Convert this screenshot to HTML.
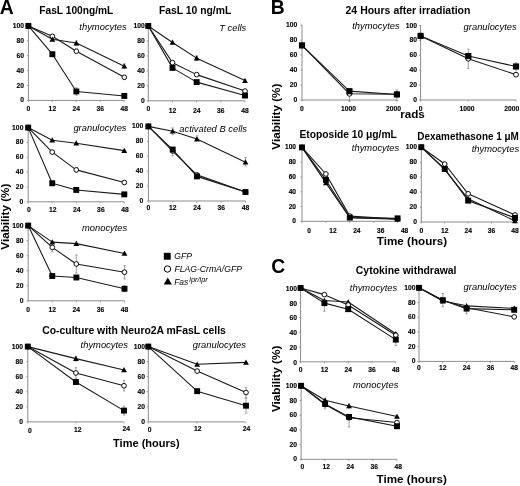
<!DOCTYPE html>
<html><head><meta charset="utf-8"><style>
html,body{margin:0;padding:0;background:#fff;}
svg{display:block;font-family:"Liberation Sans", sans-serif;filter:blur(0.3px);}
.tk{stroke:#000;stroke-width:1.2px;}
</style></head><body>
<svg width="520" height="486" viewBox="0 0 520 486" fill="#000">
<rect width="520" height="486" fill="#fff"/>
<path d="M28.40 25.40 V100.40 H124.30" stroke="#8c8c8c" stroke-width="1" fill="none"/>
<path d="M26.80 100.40 H28.40" stroke="#8c8c8c" stroke-width="0.8"/>
<text class="tk" transform="translate(24.00,102.40) scale(0.10500,0.10000)" font-size="64.50" font-weight="bold" font-style="normal" text-anchor="end">0</text>
<path d="M26.80 85.50 H28.40" stroke="#8c8c8c" stroke-width="0.8"/>
<text class="tk" transform="translate(24.00,87.50) scale(0.10500,0.10000)" font-size="64.50" font-weight="bold" font-style="normal" text-anchor="end">20</text>
<path d="M26.80 70.60 H28.40" stroke="#8c8c8c" stroke-width="0.8"/>
<text class="tk" transform="translate(24.00,72.60) scale(0.10500,0.10000)" font-size="64.50" font-weight="bold" font-style="normal" text-anchor="end">40</text>
<path d="M26.80 55.70 H28.40" stroke="#8c8c8c" stroke-width="0.8"/>
<text class="tk" transform="translate(24.00,57.70) scale(0.10500,0.10000)" font-size="64.50" font-weight="bold" font-style="normal" text-anchor="end">60</text>
<path d="M26.80 40.80 H28.40" stroke="#8c8c8c" stroke-width="0.8"/>
<text class="tk" transform="translate(24.00,42.80) scale(0.10500,0.10000)" font-size="64.50" font-weight="bold" font-style="normal" text-anchor="end">80</text>
<path d="M26.80 25.90 H28.40" stroke="#8c8c8c" stroke-width="0.8"/>
<text class="tk" transform="translate(24.00,27.90) scale(0.10500,0.10000)" font-size="64.50" font-weight="bold" font-style="normal" text-anchor="end">100</text>
<path d="M28.40 100.40 V102.00" stroke="#8c8c8c" stroke-width="0.8"/>
<text class="tk" transform="translate(28.40,110.60) scale(0.10500,0.10000)" font-size="64.50" font-weight="bold" font-style="normal" text-anchor="middle">0</text>
<path d="M52.38 100.40 V102.00" stroke="#8c8c8c" stroke-width="0.8"/>
<text class="tk" transform="translate(52.38,110.60) scale(0.10500,0.10000)" font-size="64.50" font-weight="bold" font-style="normal" text-anchor="middle">12</text>
<path d="M76.35 100.40 V102.00" stroke="#8c8c8c" stroke-width="0.8"/>
<text class="tk" transform="translate(76.35,110.60) scale(0.10500,0.10000)" font-size="64.50" font-weight="bold" font-style="normal" text-anchor="middle">24</text>
<path d="M100.32 100.40 V102.00" stroke="#8c8c8c" stroke-width="0.8"/>
<text class="tk" transform="translate(100.32,110.60) scale(0.10500,0.10000)" font-size="64.50" font-weight="bold" font-style="normal" text-anchor="middle">36</text>
<path d="M124.30 100.40 V102.00" stroke="#8c8c8c" stroke-width="0.8"/>
<text class="tk" transform="translate(124.30,110.60) scale(0.10500,0.10000)" font-size="64.50" font-weight="bold" font-style="normal" text-anchor="middle">48</text>
<text x="79.37" y="29.50" font-size="9.38" font-weight="normal" font-style="italic" text-anchor="start">thymocytes</text>
<path d="M76.35 49.00 V51.23 M75.15 49.00 H77.55 M75.15 51.23 H77.55" stroke="#8c8c8c" stroke-width="0.8"/>
<path d="M76.35 40.80 V45.27 M75.15 40.80 H77.55 M75.15 45.27 H77.55" stroke="#8c8c8c" stroke-width="0.8"/>
<path d="M124.30 63.90 V68.37 M123.10 63.90 H125.50 M123.10 68.37 H125.50" stroke="#8c8c8c" stroke-width="0.8"/>
<path d="M76.35 87.74 V95.19 M75.15 87.74 H77.55 M75.15 95.19 H77.55" stroke="#8c8c8c" stroke-width="0.8"/>
<path d="M28.40 25.90 L52.38 36.33 L76.35 51.23 L124.30 77.31" stroke="#1a1a1a" stroke-width="1.1" fill="none" stroke-linejoin="round"/>
<path d="M28.40 25.90 L52.38 39.31 L76.35 43.04 L124.30 66.13" stroke="#1a1a1a" stroke-width="1.1" fill="none" stroke-linejoin="round"/>
<path d="M28.40 25.90 L52.38 54.21 L76.35 91.46 L124.30 95.93" stroke="#1a1a1a" stroke-width="1.1" fill="none" stroke-linejoin="round"/>
<circle cx="28.40" cy="25.90" r="2.35" fill="#fff" stroke="#000" stroke-width="0.95"/>
<circle cx="52.38" cy="36.33" r="2.35" fill="#fff" stroke="#000" stroke-width="0.95"/>
<circle cx="76.35" cy="51.23" r="2.35" fill="#fff" stroke="#000" stroke-width="0.95"/>
<circle cx="124.30" cy="77.31" r="2.35" fill="#fff" stroke="#000" stroke-width="0.95"/>
<path d="M28.40 23.04 L31.30 28.24 L25.50 28.24 Z" fill="#000"/>
<path d="M52.38 36.45 L55.27 41.65 L49.48 41.65 Z" fill="#000"/>
<path d="M76.35 40.18 L79.25 45.38 L73.45 45.38 Z" fill="#000"/>
<path d="M124.30 63.27 L127.20 68.47 L121.40 68.47 Z" fill="#000"/>
<rect x="25.45" y="22.95" width="5.90" height="5.90" fill="#000"/>
<rect x="49.42" y="51.26" width="5.90" height="5.90" fill="#000"/>
<rect x="73.40" y="88.51" width="5.90" height="5.90" fill="#000"/>
<rect x="121.35" y="92.98" width="5.90" height="5.90" fill="#000"/>
<path d="M148.30 25.50 V100.80 H245.00" stroke="#8c8c8c" stroke-width="1" fill="none"/>
<path d="M146.70 100.80 H148.30" stroke="#8c8c8c" stroke-width="0.8"/>
<text class="tk" transform="translate(144.70,102.80) scale(0.10500,0.10000)" font-size="64.50" font-weight="bold" font-style="normal" text-anchor="end">0</text>
<path d="M146.70 85.84 H148.30" stroke="#8c8c8c" stroke-width="0.8"/>
<text class="tk" transform="translate(144.70,87.84) scale(0.10500,0.10000)" font-size="64.50" font-weight="bold" font-style="normal" text-anchor="end">20</text>
<path d="M146.70 70.88 H148.30" stroke="#8c8c8c" stroke-width="0.8"/>
<text class="tk" transform="translate(144.70,72.88) scale(0.10500,0.10000)" font-size="64.50" font-weight="bold" font-style="normal" text-anchor="end">40</text>
<path d="M146.70 55.92 H148.30" stroke="#8c8c8c" stroke-width="0.8"/>
<text class="tk" transform="translate(144.70,57.92) scale(0.10500,0.10000)" font-size="64.50" font-weight="bold" font-style="normal" text-anchor="end">60</text>
<path d="M146.70 40.96 H148.30" stroke="#8c8c8c" stroke-width="0.8"/>
<text class="tk" transform="translate(144.70,42.96) scale(0.10500,0.10000)" font-size="64.50" font-weight="bold" font-style="normal" text-anchor="end">80</text>
<path d="M146.70 26.00 H148.30" stroke="#8c8c8c" stroke-width="0.8"/>
<text class="tk" transform="translate(144.70,28.00) scale(0.10500,0.10000)" font-size="64.50" font-weight="bold" font-style="normal" text-anchor="end">100</text>
<path d="M148.30 100.80 V102.40" stroke="#8c8c8c" stroke-width="0.8"/>
<text class="tk" transform="translate(148.30,110.60) scale(0.10500,0.10000)" font-size="64.50" font-weight="bold" font-style="normal" text-anchor="middle">0</text>
<path d="M172.48 100.80 V102.40" stroke="#8c8c8c" stroke-width="0.8"/>
<text class="tk" transform="translate(172.48,113.30) scale(0.10500,0.10000)" font-size="64.50" font-weight="bold" font-style="normal" text-anchor="middle">12</text>
<path d="M196.65 100.80 V102.40" stroke="#8c8c8c" stroke-width="0.8"/>
<text class="tk" transform="translate(196.65,113.30) scale(0.10500,0.10000)" font-size="64.50" font-weight="bold" font-style="normal" text-anchor="middle">24</text>
<path d="M220.82 100.80 V102.40" stroke="#8c8c8c" stroke-width="0.8"/>
<text class="tk" transform="translate(220.82,113.30) scale(0.10500,0.10000)" font-size="64.50" font-weight="bold" font-style="normal" text-anchor="middle">36</text>
<path d="M245.00 100.80 V102.40" stroke="#8c8c8c" stroke-width="0.8"/>
<text class="tk" transform="translate(245.00,113.30) scale(0.10500,0.10000)" font-size="64.50" font-weight="bold" font-style="normal" text-anchor="middle">48</text>
<text x="219.16" y="30.60" font-size="9.38" font-weight="normal" font-style="italic" text-anchor="start">T cells</text>
<path d="M196.65 55.92 V60.41 M195.45 55.92 H197.85 M195.45 60.41 H197.85" stroke="#8c8c8c" stroke-width="0.8"/>
<path d="M148.30 26.00 L172.48 42.46 L196.65 58.16 L245.00 80.60" stroke="#1a1a1a" stroke-width="1.1" fill="none" stroke-linejoin="round"/>
<path d="M148.30 26.00 L172.48 62.65 L196.65 74.62 L245.00 91.08" stroke="#1a1a1a" stroke-width="1.1" fill="none" stroke-linejoin="round"/>
<path d="M148.30 26.00 L172.48 67.89 L196.65 82.10 L245.00 95.56" stroke="#1a1a1a" stroke-width="1.1" fill="none" stroke-linejoin="round"/>
<path d="M148.30 23.14 L151.20 28.34 L145.40 28.34 Z" fill="#000"/>
<path d="M172.48 39.60 L175.38 44.80 L169.58 44.80 Z" fill="#000"/>
<path d="M196.65 55.30 L199.55 60.50 L193.75 60.50 Z" fill="#000"/>
<path d="M245.00 77.74 L247.90 82.94 L242.10 82.94 Z" fill="#000"/>
<circle cx="148.30" cy="26.00" r="2.35" fill="#fff" stroke="#000" stroke-width="0.95"/>
<circle cx="172.48" cy="62.65" r="2.35" fill="#fff" stroke="#000" stroke-width="0.95"/>
<circle cx="196.65" cy="74.62" r="2.35" fill="#fff" stroke="#000" stroke-width="0.95"/>
<circle cx="245.00" cy="91.08" r="2.35" fill="#fff" stroke="#000" stroke-width="0.95"/>
<rect x="145.35" y="23.05" width="5.90" height="5.90" fill="#000"/>
<rect x="169.53" y="64.94" width="5.90" height="5.90" fill="#000"/>
<rect x="193.70" y="79.15" width="5.90" height="5.90" fill="#000"/>
<rect x="242.05" y="92.61" width="5.90" height="5.90" fill="#000"/>
<path d="M28.20 127.10 V201.80 H124.30" stroke="#8c8c8c" stroke-width="1" fill="none"/>
<path d="M26.60 201.80 H28.20" stroke="#8c8c8c" stroke-width="0.8"/>
<text class="tk" transform="translate(23.40,203.80) scale(0.10500,0.10000)" font-size="64.50" font-weight="bold" font-style="normal" text-anchor="end">0</text>
<path d="M26.60 186.96 H28.20" stroke="#8c8c8c" stroke-width="0.8"/>
<text class="tk" transform="translate(23.40,188.96) scale(0.10500,0.10000)" font-size="64.50" font-weight="bold" font-style="normal" text-anchor="end">20</text>
<path d="M26.60 172.12 H28.20" stroke="#8c8c8c" stroke-width="0.8"/>
<text class="tk" transform="translate(23.40,174.12) scale(0.10500,0.10000)" font-size="64.50" font-weight="bold" font-style="normal" text-anchor="end">40</text>
<path d="M26.60 157.28 H28.20" stroke="#8c8c8c" stroke-width="0.8"/>
<text class="tk" transform="translate(23.40,159.28) scale(0.10500,0.10000)" font-size="64.50" font-weight="bold" font-style="normal" text-anchor="end">60</text>
<path d="M26.60 142.44 H28.20" stroke="#8c8c8c" stroke-width="0.8"/>
<text class="tk" transform="translate(23.40,144.44) scale(0.10500,0.10000)" font-size="64.50" font-weight="bold" font-style="normal" text-anchor="end">80</text>
<path d="M26.60 127.60 H28.20" stroke="#8c8c8c" stroke-width="0.8"/>
<text class="tk" transform="translate(23.40,129.60) scale(0.10500,0.10000)" font-size="64.50" font-weight="bold" font-style="normal" text-anchor="end">100</text>
<path d="M28.20 201.80 V203.40" stroke="#8c8c8c" stroke-width="0.8"/>
<text class="tk" transform="translate(28.80,211.70) scale(0.10500,0.10000)" font-size="64.50" font-weight="bold" font-style="normal" text-anchor="middle">0</text>
<path d="M52.22 201.80 V203.40" stroke="#8c8c8c" stroke-width="0.8"/>
<text class="tk" transform="translate(52.82,211.70) scale(0.10500,0.10000)" font-size="64.50" font-weight="bold" font-style="normal" text-anchor="middle">12</text>
<path d="M76.25 201.80 V203.40" stroke="#8c8c8c" stroke-width="0.8"/>
<text class="tk" transform="translate(76.85,211.70) scale(0.10500,0.10000)" font-size="64.50" font-weight="bold" font-style="normal" text-anchor="middle">24</text>
<path d="M100.28 201.80 V203.40" stroke="#8c8c8c" stroke-width="0.8"/>
<text class="tk" transform="translate(100.88,211.70) scale(0.10500,0.10000)" font-size="64.50" font-weight="bold" font-style="normal" text-anchor="middle">36</text>
<path d="M124.30 201.80 V203.40" stroke="#8c8c8c" stroke-width="0.8"/>
<text class="tk" transform="translate(124.90,211.70) scale(0.10500,0.10000)" font-size="64.50" font-weight="bold" font-style="normal" text-anchor="middle">48</text>
<text x="73.38" y="130.50" font-size="9.38" font-weight="normal" font-style="italic" text-anchor="start">granulocytes</text>
<path d="M76.25 167.67 V172.12 M75.05 167.67 H77.45 M75.05 172.12 H77.45" stroke="#8c8c8c" stroke-width="0.8"/>
<path d="M28.20 127.60 L52.22 140.21 L76.25 143.18 L124.30 150.60" stroke="#1a1a1a" stroke-width="1.1" fill="none" stroke-linejoin="round"/>
<path d="M28.20 127.60 L52.22 152.09 L76.25 169.89 L124.30 182.51" stroke="#1a1a1a" stroke-width="1.1" fill="none" stroke-linejoin="round"/>
<path d="M28.20 127.60 L52.22 183.25 L76.25 189.93 L124.30 194.38" stroke="#1a1a1a" stroke-width="1.1" fill="none" stroke-linejoin="round"/>
<path d="M28.20 124.74 L31.10 129.94 L25.30 129.94 Z" fill="#000"/>
<path d="M52.22 137.35 L55.12 142.55 L49.32 142.55 Z" fill="#000"/>
<path d="M76.25 140.32 L79.15 145.52 L73.35 145.52 Z" fill="#000"/>
<path d="M124.30 147.74 L127.20 152.94 L121.40 152.94 Z" fill="#000"/>
<circle cx="28.20" cy="127.60" r="2.35" fill="#fff" stroke="#000" stroke-width="0.95"/>
<circle cx="52.22" cy="152.09" r="2.35" fill="#fff" stroke="#000" stroke-width="0.95"/>
<circle cx="76.25" cy="169.89" r="2.35" fill="#fff" stroke="#000" stroke-width="0.95"/>
<circle cx="124.30" cy="182.51" r="2.35" fill="#fff" stroke="#000" stroke-width="0.95"/>
<rect x="25.25" y="124.65" width="5.90" height="5.90" fill="#000"/>
<rect x="49.27" y="180.30" width="5.90" height="5.90" fill="#000"/>
<rect x="73.30" y="186.98" width="5.90" height="5.90" fill="#000"/>
<rect x="121.35" y="191.43" width="5.90" height="5.90" fill="#000"/>
<path d="M148.40 125.90 V201.00 H245.50" stroke="#8c8c8c" stroke-width="1" fill="none"/>
<path d="M146.80 201.00 H148.40" stroke="#8c8c8c" stroke-width="0.8"/>
<text class="tk" transform="translate(143.20,203.00) scale(0.10500,0.10000)" font-size="64.50" font-weight="bold" font-style="normal" text-anchor="end">0</text>
<path d="M146.80 186.08 H148.40" stroke="#8c8c8c" stroke-width="0.8"/>
<text class="tk" transform="translate(143.20,188.08) scale(0.10500,0.10000)" font-size="64.50" font-weight="bold" font-style="normal" text-anchor="end">20</text>
<path d="M146.80 171.16 H148.40" stroke="#8c8c8c" stroke-width="0.8"/>
<text class="tk" transform="translate(143.20,173.16) scale(0.10500,0.10000)" font-size="64.50" font-weight="bold" font-style="normal" text-anchor="end">40</text>
<path d="M146.80 156.24 H148.40" stroke="#8c8c8c" stroke-width="0.8"/>
<text class="tk" transform="translate(143.20,158.24) scale(0.10500,0.10000)" font-size="64.50" font-weight="bold" font-style="normal" text-anchor="end">60</text>
<path d="M146.80 141.32 H148.40" stroke="#8c8c8c" stroke-width="0.8"/>
<text class="tk" transform="translate(143.20,143.32) scale(0.10500,0.10000)" font-size="64.50" font-weight="bold" font-style="normal" text-anchor="end">80</text>
<path d="M146.80 126.40 H148.40" stroke="#8c8c8c" stroke-width="0.8"/>
<text class="tk" transform="translate(143.20,128.40) scale(0.10500,0.10000)" font-size="64.50" font-weight="bold" font-style="normal" text-anchor="end">100</text>
<path d="M148.40 201.00 V202.60" stroke="#8c8c8c" stroke-width="0.8"/>
<text class="tk" transform="translate(148.40,209.80) scale(0.10500,0.10000)" font-size="64.50" font-weight="bold" font-style="normal" text-anchor="middle">0</text>
<path d="M172.68 201.00 V202.60" stroke="#8c8c8c" stroke-width="0.8"/>
<text class="tk" transform="translate(172.68,209.80) scale(0.10500,0.10000)" font-size="64.50" font-weight="bold" font-style="normal" text-anchor="middle">12</text>
<path d="M196.95 201.00 V202.60" stroke="#8c8c8c" stroke-width="0.8"/>
<text class="tk" transform="translate(196.95,209.80) scale(0.10500,0.10000)" font-size="64.50" font-weight="bold" font-style="normal" text-anchor="middle">24</text>
<path d="M221.23 201.00 V202.60" stroke="#8c8c8c" stroke-width="0.8"/>
<text class="tk" transform="translate(221.23,209.80) scale(0.10500,0.10000)" font-size="64.50" font-weight="bold" font-style="normal" text-anchor="middle">36</text>
<path d="M245.50 201.00 V202.60" stroke="#8c8c8c" stroke-width="0.8"/>
<text class="tk" transform="translate(245.50,209.80) scale(0.10500,0.10000)" font-size="64.50" font-weight="bold" font-style="normal" text-anchor="middle">48</text>
<text x="179.29" y="131.50" font-size="9.38" font-weight="normal" font-style="italic" text-anchor="start">activated B cells</text>
<path d="M172.68 127.89 V134.61 M171.48 127.89 H173.88 M171.48 134.61 H173.88" stroke="#8c8c8c" stroke-width="0.8"/>
<path d="M196.95 135.73 V139.08 M195.75 135.73 H198.15 M195.75 139.08 H198.15" stroke="#8c8c8c" stroke-width="0.8"/>
<path d="M245.50 157.36 V165.94 M244.30 157.36 H246.70 M244.30 165.94 H246.70" stroke="#8c8c8c" stroke-width="0.8"/>
<path d="M172.68 151.02 V155.87 M171.48 151.02 H173.88 M171.48 155.87 H173.88" stroke="#8c8c8c" stroke-width="0.8"/>
<path d="M148.40 126.40 L172.68 131.25 L196.95 139.08 L245.50 162.21" stroke="#1a1a1a" stroke-width="1.1" fill="none" stroke-linejoin="round"/>
<path d="M148.40 126.40 L172.68 151.02 L196.95 174.89 L245.50 192.05" stroke="#1a1a1a" stroke-width="1.1" fill="none" stroke-linejoin="round"/>
<path d="M148.40 126.40 L172.68 149.53 L196.95 176.38 L245.50 192.05" stroke="#1a1a1a" stroke-width="1.1" fill="none" stroke-linejoin="round"/>
<path d="M148.40 123.54 L151.30 128.74 L145.50 128.74 Z" fill="#000"/>
<path d="M172.68 128.39 L175.58 133.59 L169.78 133.59 Z" fill="#000"/>
<path d="M196.95 136.22 L199.85 141.42 L194.05 141.42 Z" fill="#000"/>
<path d="M245.50 159.35 L248.40 164.55 L242.60 164.55 Z" fill="#000"/>
<circle cx="148.40" cy="126.40" r="2.35" fill="#fff" stroke="#000" stroke-width="0.95"/>
<circle cx="172.68" cy="151.02" r="2.35" fill="#fff" stroke="#000" stroke-width="0.95"/>
<circle cx="196.95" cy="174.89" r="2.35" fill="#fff" stroke="#000" stroke-width="0.95"/>
<circle cx="245.50" cy="192.05" r="2.35" fill="#fff" stroke="#000" stroke-width="0.95"/>
<rect x="145.45" y="123.45" width="5.90" height="5.90" fill="#000"/>
<rect x="169.73" y="146.58" width="5.90" height="5.90" fill="#000"/>
<rect x="194.00" y="173.43" width="5.90" height="5.90" fill="#000"/>
<rect x="242.55" y="189.10" width="5.90" height="5.90" fill="#000"/>
<path d="M28.20 225.10 V300.80 H124.50" stroke="#8c8c8c" stroke-width="1" fill="none"/>
<path d="M26.60 300.80 H28.20" stroke="#8c8c8c" stroke-width="0.8"/>
<text class="tk" transform="translate(23.50,302.80) scale(0.10500,0.10000)" font-size="64.50" font-weight="bold" font-style="normal" text-anchor="end">0</text>
<path d="M26.60 285.76 H28.20" stroke="#8c8c8c" stroke-width="0.8"/>
<text class="tk" transform="translate(23.50,287.76) scale(0.10500,0.10000)" font-size="64.50" font-weight="bold" font-style="normal" text-anchor="end">20</text>
<path d="M26.60 270.72 H28.20" stroke="#8c8c8c" stroke-width="0.8"/>
<text class="tk" transform="translate(23.50,272.72) scale(0.10500,0.10000)" font-size="64.50" font-weight="bold" font-style="normal" text-anchor="end">40</text>
<path d="M26.60 255.68 H28.20" stroke="#8c8c8c" stroke-width="0.8"/>
<text class="tk" transform="translate(23.50,257.68) scale(0.10500,0.10000)" font-size="64.50" font-weight="bold" font-style="normal" text-anchor="end">60</text>
<path d="M26.60 240.64 H28.20" stroke="#8c8c8c" stroke-width="0.8"/>
<text class="tk" transform="translate(23.50,242.64) scale(0.10500,0.10000)" font-size="64.50" font-weight="bold" font-style="normal" text-anchor="end">80</text>
<path d="M26.60 225.60 H28.20" stroke="#8c8c8c" stroke-width="0.8"/>
<text class="tk" transform="translate(23.50,227.60) scale(0.10500,0.10000)" font-size="64.50" font-weight="bold" font-style="normal" text-anchor="end">100</text>
<path d="M28.20 300.80 V302.40" stroke="#8c8c8c" stroke-width="0.8"/>
<text class="tk" transform="translate(28.20,311.70) scale(0.10500,0.10000)" font-size="64.50" font-weight="bold" font-style="normal" text-anchor="middle">0</text>
<path d="M52.27 300.80 V302.40" stroke="#8c8c8c" stroke-width="0.8"/>
<text class="tk" transform="translate(52.27,311.70) scale(0.10500,0.10000)" font-size="64.50" font-weight="bold" font-style="normal" text-anchor="middle">12</text>
<path d="M76.35 300.80 V302.40" stroke="#8c8c8c" stroke-width="0.8"/>
<text class="tk" transform="translate(76.35,311.70) scale(0.10500,0.10000)" font-size="64.50" font-weight="bold" font-style="normal" text-anchor="middle">24</text>
<path d="M100.42 300.80 V302.40" stroke="#8c8c8c" stroke-width="0.8"/>
<text class="tk" transform="translate(100.42,311.70) scale(0.10500,0.10000)" font-size="64.50" font-weight="bold" font-style="normal" text-anchor="middle">36</text>
<path d="M124.50 300.80 V302.40" stroke="#8c8c8c" stroke-width="0.8"/>
<text class="tk" transform="translate(124.50,311.70) scale(0.10500,0.10000)" font-size="64.50" font-weight="bold" font-style="normal" text-anchor="middle">48</text>
<text x="81.94" y="230.50" font-size="9.38" font-weight="normal" font-style="italic" text-anchor="start">monocytes</text>
<path d="M52.27 242.90 V251.92 M51.07 242.90 H53.48 M51.07 251.92 H53.48" stroke="#8c8c8c" stroke-width="0.8"/>
<path d="M76.35 254.93 V272.98 M75.15 254.93 H77.55 M75.15 272.98 H77.55" stroke="#8c8c8c" stroke-width="0.8"/>
<path d="M124.50 265.46 V278.99 M123.30 265.46 H125.70 M123.30 278.99 H125.70" stroke="#8c8c8c" stroke-width="0.8"/>
<path d="M124.50 285.76 V291.78 M123.30 285.76 H125.70 M123.30 291.78 H125.70" stroke="#8c8c8c" stroke-width="0.8"/>
<path d="M28.20 225.60 L52.27 242.14 L76.35 243.65 L124.50 253.42" stroke="#1a1a1a" stroke-width="1.1" fill="none" stroke-linejoin="round"/>
<path d="M28.20 225.60 L52.27 247.41 L76.35 263.95 L124.50 272.22" stroke="#1a1a1a" stroke-width="1.1" fill="none" stroke-linejoin="round"/>
<path d="M28.20 225.60 L52.27 275.98 L76.35 277.49 L124.50 288.77" stroke="#1a1a1a" stroke-width="1.1" fill="none" stroke-linejoin="round"/>
<path d="M28.20 222.74 L31.10 227.94 L25.30 227.94 Z" fill="#000"/>
<path d="M52.27 239.28 L55.17 244.48 L49.38 244.48 Z" fill="#000"/>
<path d="M76.35 240.79 L79.25 245.99 L73.45 245.99 Z" fill="#000"/>
<path d="M124.50 250.56 L127.40 255.76 L121.60 255.76 Z" fill="#000"/>
<circle cx="28.20" cy="225.60" r="2.35" fill="#fff" stroke="#000" stroke-width="0.95"/>
<circle cx="52.27" cy="247.41" r="2.35" fill="#fff" stroke="#000" stroke-width="0.95"/>
<circle cx="76.35" cy="263.95" r="2.35" fill="#fff" stroke="#000" stroke-width="0.95"/>
<circle cx="124.50" cy="272.22" r="2.35" fill="#fff" stroke="#000" stroke-width="0.95"/>
<rect x="25.25" y="222.65" width="5.90" height="5.90" fill="#000"/>
<rect x="49.32" y="273.03" width="5.90" height="5.90" fill="#000"/>
<rect x="73.40" y="274.54" width="5.90" height="5.90" fill="#000"/>
<rect x="121.55" y="285.82" width="5.90" height="5.90" fill="#000"/>
<path d="M27.80 346.10 V421.90 H123.60" stroke="#8c8c8c" stroke-width="1" fill="none"/>
<path d="M26.20 421.90 H27.80" stroke="#8c8c8c" stroke-width="0.8"/>
<text class="tk" transform="translate(23.10,423.90) scale(0.10500,0.10000)" font-size="64.50" font-weight="bold" font-style="normal" text-anchor="end">0</text>
<path d="M26.20 406.84 H27.80" stroke="#8c8c8c" stroke-width="0.8"/>
<text class="tk" transform="translate(23.10,408.84) scale(0.10500,0.10000)" font-size="64.50" font-weight="bold" font-style="normal" text-anchor="end">20</text>
<path d="M26.20 391.78 H27.80" stroke="#8c8c8c" stroke-width="0.8"/>
<text class="tk" transform="translate(23.10,393.78) scale(0.10500,0.10000)" font-size="64.50" font-weight="bold" font-style="normal" text-anchor="end">40</text>
<path d="M26.20 376.72 H27.80" stroke="#8c8c8c" stroke-width="0.8"/>
<text class="tk" transform="translate(23.10,378.72) scale(0.10500,0.10000)" font-size="64.50" font-weight="bold" font-style="normal" text-anchor="end">60</text>
<path d="M26.20 361.66 H27.80" stroke="#8c8c8c" stroke-width="0.8"/>
<text class="tk" transform="translate(23.10,363.66) scale(0.10500,0.10000)" font-size="64.50" font-weight="bold" font-style="normal" text-anchor="end">80</text>
<path d="M26.20 346.60 H27.80" stroke="#8c8c8c" stroke-width="0.8"/>
<text class="tk" transform="translate(23.10,348.60) scale(0.10500,0.10000)" font-size="64.50" font-weight="bold" font-style="normal" text-anchor="end">100</text>
<path d="M27.80 421.90 V423.50" stroke="#8c8c8c" stroke-width="0.8"/>
<text class="tk" transform="translate(30.00,433.00) scale(0.10500,0.10000)" font-size="64.50" font-weight="bold" font-style="normal" text-anchor="middle">0</text>
<path d="M75.90 421.90 V423.50" stroke="#8c8c8c" stroke-width="0.8"/>
<text class="tk" transform="translate(77.70,432.30) scale(0.10500,0.10000)" font-size="64.50" font-weight="bold" font-style="normal" text-anchor="middle">12</text>
<path d="M124.00 421.90 V423.50" stroke="#8c8c8c" stroke-width="0.8"/>
<text class="tk" transform="translate(126.20,430.70) scale(0.10500,0.10000)" font-size="64.50" font-weight="bold" font-style="normal" text-anchor="middle">24</text>
<text x="80.57" y="348.10" font-size="9.38" font-weight="normal" font-style="italic" text-anchor="start">thymocytes</text>
<path d="M75.90 356.39 V360.91 M74.70 356.39 H77.10 M74.70 360.91 H77.10" stroke="#8c8c8c" stroke-width="0.8"/>
<path d="M75.90 367.68 V378.23 M74.70 367.68 H77.10 M74.70 378.23 H77.10" stroke="#8c8c8c" stroke-width="0.8"/>
<path d="M124.00 380.49 V391.03 M122.80 380.49 H125.20 M122.80 391.03 H125.20" stroke="#8c8c8c" stroke-width="0.8"/>
<path d="M124.00 406.09 V415.12 M122.80 406.09 H125.20 M122.80 415.12 H125.20" stroke="#8c8c8c" stroke-width="0.8"/>
<path d="M27.80 346.60 L75.90 358.65 L124.00 369.94" stroke="#1a1a1a" stroke-width="1.1" fill="none" stroke-linejoin="round"/>
<path d="M27.80 346.60 L75.90 372.95 L124.00 385.76" stroke="#1a1a1a" stroke-width="1.1" fill="none" stroke-linejoin="round"/>
<path d="M27.80 346.60 L75.90 381.99 L124.00 410.60" stroke="#1a1a1a" stroke-width="1.1" fill="none" stroke-linejoin="round"/>
<path d="M27.80 343.74 L30.70 348.94 L24.90 348.94 Z" fill="#000"/>
<path d="M75.90 355.79 L78.80 360.99 L73.00 360.99 Z" fill="#000"/>
<path d="M124.00 367.08 L126.90 372.28 L121.10 372.28 Z" fill="#000"/>
<circle cx="27.80" cy="346.60" r="2.35" fill="#fff" stroke="#000" stroke-width="0.95"/>
<circle cx="75.90" cy="372.95" r="2.35" fill="#fff" stroke="#000" stroke-width="0.95"/>
<circle cx="124.00" cy="385.76" r="2.35" fill="#fff" stroke="#000" stroke-width="0.95"/>
<rect x="24.85" y="343.65" width="5.90" height="5.90" fill="#000"/>
<rect x="72.95" y="379.04" width="5.90" height="5.90" fill="#000"/>
<rect x="121.05" y="407.65" width="5.90" height="5.90" fill="#000"/>
<path d="M148.30 346.10 V421.90 H245.20" stroke="#8c8c8c" stroke-width="1" fill="none"/>
<path d="M146.70 421.90 H148.30" stroke="#8c8c8c" stroke-width="0.8"/>
<text class="tk" transform="translate(145.00,423.90) scale(0.10500,0.10000)" font-size="64.50" font-weight="bold" font-style="normal" text-anchor="end">0</text>
<path d="M146.70 406.84 H148.30" stroke="#8c8c8c" stroke-width="0.8"/>
<text class="tk" transform="translate(145.00,408.84) scale(0.10500,0.10000)" font-size="64.50" font-weight="bold" font-style="normal" text-anchor="end">20</text>
<path d="M146.70 391.78 H148.30" stroke="#8c8c8c" stroke-width="0.8"/>
<text class="tk" transform="translate(145.00,393.78) scale(0.10500,0.10000)" font-size="64.50" font-weight="bold" font-style="normal" text-anchor="end">40</text>
<path d="M146.70 376.72 H148.30" stroke="#8c8c8c" stroke-width="0.8"/>
<text class="tk" transform="translate(145.00,378.72) scale(0.10500,0.10000)" font-size="64.50" font-weight="bold" font-style="normal" text-anchor="end">60</text>
<path d="M146.70 361.66 H148.30" stroke="#8c8c8c" stroke-width="0.8"/>
<text class="tk" transform="translate(145.00,363.66) scale(0.10500,0.10000)" font-size="64.50" font-weight="bold" font-style="normal" text-anchor="end">80</text>
<path d="M146.70 346.60 H148.30" stroke="#8c8c8c" stroke-width="0.8"/>
<text class="tk" transform="translate(145.00,348.60) scale(0.10500,0.10000)" font-size="64.50" font-weight="bold" font-style="normal" text-anchor="end">100</text>
<path d="M148.30 421.90 V423.50" stroke="#8c8c8c" stroke-width="0.8"/>
<text class="tk" transform="translate(149.70,432.30) scale(0.10500,0.10000)" font-size="64.50" font-weight="bold" font-style="normal" text-anchor="middle">0</text>
<path d="M197.15 421.90 V423.50" stroke="#8c8c8c" stroke-width="0.8"/>
<text class="tk" transform="translate(197.75,430.70) scale(0.10500,0.10000)" font-size="64.50" font-weight="bold" font-style="normal" text-anchor="middle">12</text>
<path d="M246.00 421.90 V423.50" stroke="#8c8c8c" stroke-width="0.8"/>
<text class="tk" transform="translate(246.60,430.70) scale(0.10500,0.10000)" font-size="64.50" font-weight="bold" font-style="normal" text-anchor="middle">24</text>
<text x="192.78" y="348.30" font-size="9.38" font-weight="normal" font-style="italic" text-anchor="start">granulocytes</text>
<path d="M246.00 387.26 V397.80 M244.80 387.26 H247.20 M244.80 397.80 H247.20" stroke="#8c8c8c" stroke-width="0.8"/>
<path d="M246.00 398.18 V413.24 M244.80 398.18 H247.20 M244.80 413.24 H247.20" stroke="#8c8c8c" stroke-width="0.8"/>
<path d="M148.30 346.60 L197.15 364.30 L246.00 362.41" stroke="#1a1a1a" stroke-width="1.1" fill="none" stroke-linejoin="round"/>
<path d="M148.30 346.60 L197.15 371.07 L246.00 392.53" stroke="#1a1a1a" stroke-width="1.1" fill="none" stroke-linejoin="round"/>
<path d="M148.30 346.60 L197.15 391.18 L246.00 405.71" stroke="#1a1a1a" stroke-width="1.1" fill="none" stroke-linejoin="round"/>
<path d="M148.30 343.74 L151.20 348.94 L145.40 348.94 Z" fill="#000"/>
<path d="M197.15 361.44 L200.05 366.64 L194.25 366.64 Z" fill="#000"/>
<path d="M246.00 359.55 L248.90 364.75 L243.10 364.75 Z" fill="#000"/>
<circle cx="148.30" cy="346.60" r="2.35" fill="#fff" stroke="#000" stroke-width="0.95"/>
<circle cx="197.15" cy="371.07" r="2.35" fill="#fff" stroke="#000" stroke-width="0.95"/>
<circle cx="246.00" cy="392.53" r="2.35" fill="#fff" stroke="#000" stroke-width="0.95"/>
<rect x="145.35" y="343.65" width="5.90" height="5.90" fill="#000"/>
<rect x="194.20" y="388.23" width="5.90" height="5.90" fill="#000"/>
<rect x="243.05" y="402.76" width="5.90" height="5.90" fill="#000"/>
<path d="M302.00 24.70 V100.00 H396.90" stroke="#8c8c8c" stroke-width="1" fill="none"/>
<path d="M300.40 100.00 H302.00" stroke="#8c8c8c" stroke-width="0.8"/>
<text class="tk" transform="translate(297.30,102.00) scale(0.10500,0.10000)" font-size="64.50" font-weight="bold" font-style="normal" text-anchor="end">0</text>
<path d="M300.40 85.04 H302.00" stroke="#8c8c8c" stroke-width="0.8"/>
<text class="tk" transform="translate(297.30,87.04) scale(0.10500,0.10000)" font-size="64.50" font-weight="bold" font-style="normal" text-anchor="end">20</text>
<path d="M300.40 70.08 H302.00" stroke="#8c8c8c" stroke-width="0.8"/>
<text class="tk" transform="translate(297.30,72.08) scale(0.10500,0.10000)" font-size="64.50" font-weight="bold" font-style="normal" text-anchor="end">40</text>
<path d="M300.40 55.12 H302.00" stroke="#8c8c8c" stroke-width="0.8"/>
<text class="tk" transform="translate(297.30,57.12) scale(0.10500,0.10000)" font-size="64.50" font-weight="bold" font-style="normal" text-anchor="end">60</text>
<path d="M300.40 40.16 H302.00" stroke="#8c8c8c" stroke-width="0.8"/>
<text class="tk" transform="translate(297.30,42.16) scale(0.10500,0.10000)" font-size="64.50" font-weight="bold" font-style="normal" text-anchor="end">80</text>
<path d="M300.40 25.20 H302.00" stroke="#8c8c8c" stroke-width="0.8"/>
<text class="tk" transform="translate(297.30,27.20) scale(0.10500,0.10000)" font-size="64.50" font-weight="bold" font-style="normal" text-anchor="end">100</text>
<path d="M302.00 100.00 V101.60" stroke="#8c8c8c" stroke-width="0.8"/>
<text class="tk" transform="translate(302.00,110.70) scale(0.10500,0.10000)" font-size="64.50" font-weight="bold" font-style="normal" text-anchor="middle">0</text>
<path d="M349.45 100.00 V101.60" stroke="#8c8c8c" stroke-width="0.8"/>
<text class="tk" transform="translate(348.45,110.70) scale(0.10500,0.10000)" font-size="64.50" font-weight="bold" font-style="normal" text-anchor="middle">1000</text>
<path d="M396.90 100.00 V101.60" stroke="#8c8c8c" stroke-width="0.8"/>
<text class="tk" transform="translate(393.50,110.70) scale(0.10500,0.10000)" font-size="64.50" font-weight="bold" font-style="normal" text-anchor="middle">2000</text>
<text x="352.27" y="28.90" font-size="9.38" font-weight="normal" font-style="italic" text-anchor="start">thymocytes</text>
<path d="M349.45 93.79 V101.27 M348.25 93.79 H350.65 M348.25 101.27 H350.65" stroke="#8c8c8c" stroke-width="0.8"/>
<path d="M349.45 88.93 V91.17 M348.25 88.93 H350.65 M348.25 91.17 H350.65" stroke="#8c8c8c" stroke-width="0.8"/>
<path d="M396.90 89.98 V100.45 M395.70 89.98 H398.10 M395.70 100.45 H398.10" stroke="#8c8c8c" stroke-width="0.8"/>
<path d="M302.00 45.40 L349.45 93.79 L396.90 94.32" stroke="#1a1a1a" stroke-width="1.1" fill="none" stroke-linejoin="round"/>
<path d="M302.00 45.40 L349.45 91.17 L396.90 94.46" stroke="#1a1a1a" stroke-width="1.1" fill="none" stroke-linejoin="round"/>
<circle cx="302.00" cy="45.40" r="2.44" fill="#fff" stroke="#000" stroke-width="0.95"/>
<circle cx="349.45" cy="93.79" r="2.44" fill="#fff" stroke="#000" stroke-width="0.95"/>
<circle cx="396.90" cy="94.32" r="2.44" fill="#fff" stroke="#000" stroke-width="0.95"/>
<rect x="298.93" y="42.33" width="6.14" height="6.14" fill="#000"/>
<rect x="346.38" y="88.11" width="6.14" height="6.14" fill="#000"/>
<rect x="393.83" y="91.40" width="6.14" height="6.14" fill="#000"/>
<path d="M420.60 25.00 V100.00 H516.00" stroke="#8c8c8c" stroke-width="1" fill="none"/>
<path d="M419.00 100.00 H420.60" stroke="#8c8c8c" stroke-width="0.8"/>
<text class="tk" transform="translate(417.10,102.00) scale(0.10500,0.10000)" font-size="64.50" font-weight="bold" font-style="normal" text-anchor="end">0</text>
<path d="M419.00 85.10 H420.60" stroke="#8c8c8c" stroke-width="0.8"/>
<text class="tk" transform="translate(417.10,87.10) scale(0.10500,0.10000)" font-size="64.50" font-weight="bold" font-style="normal" text-anchor="end">20</text>
<path d="M419.00 70.20 H420.60" stroke="#8c8c8c" stroke-width="0.8"/>
<text class="tk" transform="translate(417.10,72.20) scale(0.10500,0.10000)" font-size="64.50" font-weight="bold" font-style="normal" text-anchor="end">40</text>
<path d="M419.00 55.30 H420.60" stroke="#8c8c8c" stroke-width="0.8"/>
<text class="tk" transform="translate(417.10,57.30) scale(0.10500,0.10000)" font-size="64.50" font-weight="bold" font-style="normal" text-anchor="end">60</text>
<path d="M419.00 40.40 H420.60" stroke="#8c8c8c" stroke-width="0.8"/>
<text class="tk" transform="translate(417.10,42.40) scale(0.10500,0.10000)" font-size="64.50" font-weight="bold" font-style="normal" text-anchor="end">80</text>
<path d="M419.00 25.50 H420.60" stroke="#8c8c8c" stroke-width="0.8"/>
<text class="tk" transform="translate(417.10,27.50) scale(0.10500,0.10000)" font-size="64.50" font-weight="bold" font-style="normal" text-anchor="end">100</text>
<path d="M420.60 100.00 V101.60" stroke="#8c8c8c" stroke-width="0.8"/>
<text class="tk" transform="translate(420.60,110.90) scale(0.10500,0.10000)" font-size="64.50" font-weight="bold" font-style="normal" text-anchor="middle">0</text>
<path d="M468.30 100.00 V101.60" stroke="#8c8c8c" stroke-width="0.8"/>
<text class="tk" transform="translate(467.00,110.90) scale(0.10500,0.10000)" font-size="64.50" font-weight="bold" font-style="normal" text-anchor="middle">1000</text>
<path d="M516.00 100.00 V101.60" stroke="#8c8c8c" stroke-width="0.8"/>
<text class="tk" transform="translate(511.80,110.90) scale(0.10500,0.10000)" font-size="64.50" font-weight="bold" font-style="normal" text-anchor="middle">2000</text>
<text x="463.58" y="30.30" font-size="9.38" font-weight="normal" font-style="italic" text-anchor="start">granulocytes</text>
<path d="M468.30 58.73 V68.41 M467.10 58.73 H469.50 M467.10 68.41 H469.50" stroke="#8c8c8c" stroke-width="0.8"/>
<path d="M420.60 32.95 V38.91 M419.40 32.95 H421.80 M419.40 38.91 H421.80" stroke="#8c8c8c" stroke-width="0.8"/>
<path d="M468.30 49.12 V56.05 M467.10 49.12 H469.50 M467.10 56.05 H469.50" stroke="#8c8c8c" stroke-width="0.8"/>
<path d="M516.00 62.75 V70.20 M514.80 62.75 H517.20 M514.80 70.20 H517.20" stroke="#8c8c8c" stroke-width="0.8"/>
<path d="M420.60 35.93 L468.30 58.73 L516.00 74.67" stroke="#1a1a1a" stroke-width="1.1" fill="none" stroke-linejoin="round"/>
<path d="M420.60 35.93 L468.30 56.05 L516.00 66.47" stroke="#1a1a1a" stroke-width="1.1" fill="none" stroke-linejoin="round"/>
<circle cx="420.60" cy="35.93" r="2.44" fill="#fff" stroke="#000" stroke-width="0.95"/>
<circle cx="468.30" cy="58.73" r="2.44" fill="#fff" stroke="#000" stroke-width="0.95"/>
<circle cx="516.00" cy="74.67" r="2.44" fill="#fff" stroke="#000" stroke-width="0.95"/>
<rect x="417.53" y="32.86" width="6.14" height="6.14" fill="#000"/>
<rect x="465.23" y="52.98" width="6.14" height="6.14" fill="#000"/>
<rect x="512.93" y="63.41" width="6.14" height="6.14" fill="#000"/>
<path d="M302.00 146.90 V221.30 H397.60" stroke="#8c8c8c" stroke-width="1" fill="none"/>
<path d="M300.40 221.30 H302.00" stroke="#8c8c8c" stroke-width="0.8"/>
<text class="tk" transform="translate(296.00,223.30) scale(0.10500,0.10000)" font-size="63.00" font-weight="bold" font-style="normal" text-anchor="end">0</text>
<path d="M300.40 206.52 H302.00" stroke="#8c8c8c" stroke-width="0.8"/>
<text class="tk" transform="translate(296.00,208.52) scale(0.10500,0.10000)" font-size="63.00" font-weight="bold" font-style="normal" text-anchor="end">20</text>
<path d="M300.40 191.74 H302.00" stroke="#8c8c8c" stroke-width="0.8"/>
<text class="tk" transform="translate(296.00,193.74) scale(0.10500,0.10000)" font-size="63.00" font-weight="bold" font-style="normal" text-anchor="end">40</text>
<path d="M300.40 176.96 H302.00" stroke="#8c8c8c" stroke-width="0.8"/>
<text class="tk" transform="translate(296.00,178.96) scale(0.10500,0.10000)" font-size="63.00" font-weight="bold" font-style="normal" text-anchor="end">60</text>
<path d="M300.40 162.18 H302.00" stroke="#8c8c8c" stroke-width="0.8"/>
<text class="tk" transform="translate(296.00,164.18) scale(0.10500,0.10000)" font-size="63.00" font-weight="bold" font-style="normal" text-anchor="end">80</text>
<path d="M300.40 147.40 H302.00" stroke="#8c8c8c" stroke-width="0.8"/>
<text class="tk" transform="translate(296.00,149.40) scale(0.10500,0.10000)" font-size="63.00" font-weight="bold" font-style="normal" text-anchor="end">100</text>
<path d="M302.00 221.30 V222.90" stroke="#8c8c8c" stroke-width="0.8"/>
<text class="tk" transform="translate(309.00,233.00) scale(0.10500,0.10000)" font-size="63.00" font-weight="bold" font-style="normal" text-anchor="middle">0</text>
<path d="M325.90 221.30 V222.90" stroke="#8c8c8c" stroke-width="0.8"/>
<text class="tk" transform="translate(332.90,233.00) scale(0.10500,0.10000)" font-size="63.00" font-weight="bold" font-style="normal" text-anchor="middle">12</text>
<path d="M349.80 221.30 V222.90" stroke="#8c8c8c" stroke-width="0.8"/>
<text class="tk" transform="translate(356.80,233.00) scale(0.10500,0.10000)" font-size="63.00" font-weight="bold" font-style="normal" text-anchor="middle">24</text>
<path d="M373.70 221.30 V222.90" stroke="#8c8c8c" stroke-width="0.8"/>
<text class="tk" transform="translate(380.70,233.00) scale(0.10500,0.10000)" font-size="63.00" font-weight="bold" font-style="normal" text-anchor="middle">36</text>
<path d="M397.60 221.30 V222.90" stroke="#8c8c8c" stroke-width="0.8"/>
<text class="tk" transform="translate(404.60,233.00) scale(0.10500,0.10000)" font-size="63.00" font-weight="bold" font-style="normal" text-anchor="middle">48</text>
<text x="351.87" y="150.70" font-size="9.38" font-weight="normal" font-style="italic" text-anchor="start">thymocytes</text>
<path d="M302.00 147.40 L325.90 182.87 L349.80 217.61 L397.60 219.08" stroke="#1a1a1a" stroke-width="1.1" fill="none" stroke-linejoin="round"/>
<path d="M302.00 147.40 L325.90 174.00 L349.80 216.13 L397.60 219.08" stroke="#1a1a1a" stroke-width="1.1" fill="none" stroke-linejoin="round"/>
<path d="M302.00 147.40 L325.90 179.92 L349.80 217.61 L397.60 218.34" stroke="#1a1a1a" stroke-width="1.1" fill="none" stroke-linejoin="round"/>
<path d="M302.00 144.54 L304.90 149.74 L299.10 149.74 Z" fill="#000"/>
<path d="M325.90 180.01 L328.80 185.21 L323.00 185.21 Z" fill="#000"/>
<path d="M349.80 214.75 L352.70 219.95 L346.90 219.95 Z" fill="#000"/>
<path d="M397.60 216.22 L400.50 221.42 L394.70 221.42 Z" fill="#000"/>
<circle cx="302.00" cy="147.40" r="2.35" fill="#fff" stroke="#000" stroke-width="0.95"/>
<circle cx="325.90" cy="174.00" r="2.35" fill="#fff" stroke="#000" stroke-width="0.95"/>
<circle cx="349.80" cy="216.13" r="2.35" fill="#fff" stroke="#000" stroke-width="0.95"/>
<circle cx="397.60" cy="219.08" r="2.35" fill="#fff" stroke="#000" stroke-width="0.95"/>
<rect x="299.05" y="144.45" width="5.90" height="5.90" fill="#000"/>
<rect x="322.95" y="176.97" width="5.90" height="5.90" fill="#000"/>
<rect x="346.85" y="214.66" width="5.90" height="5.90" fill="#000"/>
<rect x="394.65" y="215.39" width="5.90" height="5.90" fill="#000"/>
<path d="M421.30 146.70 V222.00 H515.00" stroke="#8c8c8c" stroke-width="1" fill="none"/>
<path d="M419.70 222.00 H421.30" stroke="#8c8c8c" stroke-width="0.8"/>
<text class="tk" transform="translate(417.10,224.00) scale(0.10500,0.10000)" font-size="64.50" font-weight="bold" font-style="normal" text-anchor="end">0</text>
<path d="M419.70 207.04 H421.30" stroke="#8c8c8c" stroke-width="0.8"/>
<text class="tk" transform="translate(417.10,209.04) scale(0.10500,0.10000)" font-size="64.50" font-weight="bold" font-style="normal" text-anchor="end">20</text>
<path d="M419.70 192.08 H421.30" stroke="#8c8c8c" stroke-width="0.8"/>
<text class="tk" transform="translate(417.10,194.08) scale(0.10500,0.10000)" font-size="64.50" font-weight="bold" font-style="normal" text-anchor="end">40</text>
<path d="M419.70 177.12 H421.30" stroke="#8c8c8c" stroke-width="0.8"/>
<text class="tk" transform="translate(417.10,179.12) scale(0.10500,0.10000)" font-size="64.50" font-weight="bold" font-style="normal" text-anchor="end">60</text>
<path d="M419.70 162.16 H421.30" stroke="#8c8c8c" stroke-width="0.8"/>
<text class="tk" transform="translate(417.10,164.16) scale(0.10500,0.10000)" font-size="64.50" font-weight="bold" font-style="normal" text-anchor="end">80</text>
<path d="M419.70 147.20 H421.30" stroke="#8c8c8c" stroke-width="0.8"/>
<text class="tk" transform="translate(417.10,149.20) scale(0.10500,0.10000)" font-size="64.50" font-weight="bold" font-style="normal" text-anchor="end">100</text>
<path d="M421.30 222.00 V223.60" stroke="#8c8c8c" stroke-width="0.8"/>
<text class="tk" transform="translate(421.30,232.70) scale(0.10500,0.10000)" font-size="64.50" font-weight="bold" font-style="normal" text-anchor="middle">0</text>
<path d="M444.73 222.00 V223.60" stroke="#8c8c8c" stroke-width="0.8"/>
<text class="tk" transform="translate(444.73,232.70) scale(0.10500,0.10000)" font-size="64.50" font-weight="bold" font-style="normal" text-anchor="middle">12</text>
<path d="M468.15 222.00 V223.60" stroke="#8c8c8c" stroke-width="0.8"/>
<text class="tk" transform="translate(468.15,232.70) scale(0.10500,0.10000)" font-size="64.50" font-weight="bold" font-style="normal" text-anchor="middle">24</text>
<path d="M491.57 222.00 V223.60" stroke="#8c8c8c" stroke-width="0.8"/>
<text class="tk" transform="translate(491.57,232.70) scale(0.10500,0.10000)" font-size="64.50" font-weight="bold" font-style="normal" text-anchor="middle">36</text>
<path d="M515.00 222.00 V223.60" stroke="#8c8c8c" stroke-width="0.8"/>
<text class="tk" transform="translate(515.00,232.70) scale(0.10500,0.10000)" font-size="64.50" font-weight="bold" font-style="normal" text-anchor="middle">48</text>
<text x="471.67" y="152.40" font-size="9.38" font-weight="normal" font-style="italic" text-anchor="start">thymocytes</text>
<path d="M421.30 147.20 L444.73 169.64 L468.15 198.81 L515.00 220.88" stroke="#1a1a1a" stroke-width="1.1" fill="none" stroke-linejoin="round"/>
<path d="M421.30 147.20 L444.73 164.03 L468.15 193.80 L515.00 214.97" stroke="#1a1a1a" stroke-width="1.1" fill="none" stroke-linejoin="round"/>
<path d="M421.30 147.20 L444.73 168.89 L468.15 200.61 L515.00 217.89" stroke="#1a1a1a" stroke-width="1.1" fill="none" stroke-linejoin="round"/>
<path d="M421.30 144.34 L424.20 149.54 L418.40 149.54 Z" fill="#000"/>
<path d="M444.73 166.78 L447.62 171.98 L441.83 171.98 Z" fill="#000"/>
<path d="M468.15 195.95 L471.05 201.15 L465.25 201.15 Z" fill="#000"/>
<path d="M515.00 218.02 L517.90 223.22 L512.10 223.22 Z" fill="#000"/>
<circle cx="421.30" cy="147.20" r="2.35" fill="#fff" stroke="#000" stroke-width="0.95"/>
<circle cx="444.73" cy="164.03" r="2.35" fill="#fff" stroke="#000" stroke-width="0.95"/>
<circle cx="468.15" cy="193.80" r="2.35" fill="#fff" stroke="#000" stroke-width="0.95"/>
<circle cx="515.00" cy="214.97" r="2.35" fill="#fff" stroke="#000" stroke-width="0.95"/>
<rect x="418.35" y="144.25" width="5.90" height="5.90" fill="#000"/>
<rect x="441.78" y="165.94" width="5.90" height="5.90" fill="#000"/>
<rect x="465.20" y="197.66" width="5.90" height="5.90" fill="#000"/>
<rect x="512.05" y="214.94" width="5.90" height="5.90" fill="#000"/>
<path d="M300.60 287.50 V361.80 H395.80" stroke="#8c8c8c" stroke-width="1" fill="none"/>
<path d="M299.00 361.80 H300.60" stroke="#8c8c8c" stroke-width="0.8"/>
<text class="tk" transform="translate(297.10,364.60) scale(0.10500,0.10000)" font-size="64.50" font-weight="bold" font-style="normal" text-anchor="end">0</text>
<path d="M299.00 347.04 H300.60" stroke="#8c8c8c" stroke-width="0.8"/>
<text class="tk" transform="translate(297.10,349.84) scale(0.10500,0.10000)" font-size="64.50" font-weight="bold" font-style="normal" text-anchor="end">20</text>
<path d="M299.00 332.28 H300.60" stroke="#8c8c8c" stroke-width="0.8"/>
<text class="tk" transform="translate(297.10,335.08) scale(0.10500,0.10000)" font-size="64.50" font-weight="bold" font-style="normal" text-anchor="end">40</text>
<path d="M299.00 317.52 H300.60" stroke="#8c8c8c" stroke-width="0.8"/>
<text class="tk" transform="translate(297.10,320.32) scale(0.10500,0.10000)" font-size="64.50" font-weight="bold" font-style="normal" text-anchor="end">60</text>
<path d="M299.00 302.76 H300.60" stroke="#8c8c8c" stroke-width="0.8"/>
<text class="tk" transform="translate(297.10,305.56) scale(0.10500,0.10000)" font-size="64.50" font-weight="bold" font-style="normal" text-anchor="end">80</text>
<path d="M299.00 288.00 H300.60" stroke="#8c8c8c" stroke-width="0.8"/>
<text class="tk" transform="translate(297.10,290.80) scale(0.10500,0.10000)" font-size="64.50" font-weight="bold" font-style="normal" text-anchor="end">100</text>
<path d="M300.60 361.80 V363.40" stroke="#8c8c8c" stroke-width="0.8"/>
<text class="tk" transform="translate(300.60,371.90) scale(0.10500,0.10000)" font-size="64.50" font-weight="bold" font-style="normal" text-anchor="middle">0</text>
<path d="M324.40 361.80 V363.40" stroke="#8c8c8c" stroke-width="0.8"/>
<text class="tk" transform="translate(324.40,371.90) scale(0.10500,0.10000)" font-size="64.50" font-weight="bold" font-style="normal" text-anchor="middle">12</text>
<path d="M348.20 361.80 V363.40" stroke="#8c8c8c" stroke-width="0.8"/>
<text class="tk" transform="translate(348.20,371.90) scale(0.10500,0.10000)" font-size="64.50" font-weight="bold" font-style="normal" text-anchor="middle">24</text>
<path d="M372.00 361.80 V363.40" stroke="#8c8c8c" stroke-width="0.8"/>
<text class="tk" transform="translate(372.00,371.90) scale(0.10500,0.10000)" font-size="64.50" font-weight="bold" font-style="normal" text-anchor="middle">36</text>
<path d="M395.80 361.80 V363.40" stroke="#8c8c8c" stroke-width="0.8"/>
<text class="tk" transform="translate(395.80,371.90) scale(0.10500,0.10000)" font-size="64.50" font-weight="bold" font-style="normal" text-anchor="middle">48</text>
<text x="349.87" y="290.90" font-size="9.38" font-weight="normal" font-style="italic" text-anchor="start">thymocytes</text>
<path d="M324.40 303.13 V311.25 M323.20 303.13 H325.60 M323.20 311.25 H325.60" stroke="#8c8c8c" stroke-width="0.8"/>
<path d="M395.80 333.76 V345.56 M394.60 333.76 H397.00 M394.60 345.56 H397.00" stroke="#8c8c8c" stroke-width="0.8"/>
<path d="M300.60 288.00 L324.40 300.55 L348.20 302.02 L395.80 333.76" stroke="#1a1a1a" stroke-width="1.1" fill="none" stroke-linejoin="round"/>
<path d="M300.60 288.00 L324.40 294.64 L348.20 304.97 L395.80 335.23" stroke="#1a1a1a" stroke-width="1.1" fill="none" stroke-linejoin="round"/>
<path d="M300.60 288.00 L324.40 303.13 L348.20 309.18 L395.80 339.66" stroke="#1a1a1a" stroke-width="1.1" fill="none" stroke-linejoin="round"/>
<path d="M300.60 285.14 L303.50 290.34 L297.70 290.34 Z" fill="#000"/>
<path d="M324.40 297.69 L327.30 302.89 L321.50 302.89 Z" fill="#000"/>
<path d="M348.20 299.16 L351.10 304.36 L345.30 304.36 Z" fill="#000"/>
<path d="M395.80 330.90 L398.70 336.10 L392.90 336.10 Z" fill="#000"/>
<circle cx="300.60" cy="288.00" r="2.35" fill="#fff" stroke="#000" stroke-width="0.95"/>
<circle cx="324.40" cy="294.64" r="2.35" fill="#fff" stroke="#000" stroke-width="0.95"/>
<circle cx="348.20" cy="304.97" r="2.35" fill="#fff" stroke="#000" stroke-width="0.95"/>
<circle cx="395.80" cy="335.23" r="2.35" fill="#fff" stroke="#000" stroke-width="0.95"/>
<rect x="297.65" y="285.05" width="5.90" height="5.90" fill="#000"/>
<rect x="321.45" y="300.18" width="5.90" height="5.90" fill="#000"/>
<rect x="345.25" y="306.23" width="5.90" height="5.90" fill="#000"/>
<rect x="392.85" y="336.71" width="5.90" height="5.90" fill="#000"/>
<path d="M419.00 287.30 V361.40 H514.20" stroke="#8c8c8c" stroke-width="1" fill="none"/>
<path d="M417.40 361.40 H419.00" stroke="#8c8c8c" stroke-width="0.8"/>
<text class="tk" transform="translate(415.50,363.40) scale(0.10500,0.10000)" font-size="64.50" font-weight="bold" font-style="normal" text-anchor="end">0</text>
<path d="M417.40 346.68 H419.00" stroke="#8c8c8c" stroke-width="0.8"/>
<text class="tk" transform="translate(415.50,348.68) scale(0.10500,0.10000)" font-size="64.50" font-weight="bold" font-style="normal" text-anchor="end">20</text>
<path d="M417.40 331.96 H419.00" stroke="#8c8c8c" stroke-width="0.8"/>
<text class="tk" transform="translate(415.50,333.96) scale(0.10500,0.10000)" font-size="64.50" font-weight="bold" font-style="normal" text-anchor="end">40</text>
<path d="M417.40 317.24 H419.00" stroke="#8c8c8c" stroke-width="0.8"/>
<text class="tk" transform="translate(415.50,319.24) scale(0.10500,0.10000)" font-size="64.50" font-weight="bold" font-style="normal" text-anchor="end">60</text>
<path d="M417.40 302.52 H419.00" stroke="#8c8c8c" stroke-width="0.8"/>
<text class="tk" transform="translate(415.50,304.52) scale(0.10500,0.10000)" font-size="64.50" font-weight="bold" font-style="normal" text-anchor="end">80</text>
<path d="M417.40 287.80 H419.00" stroke="#8c8c8c" stroke-width="0.8"/>
<text class="tk" transform="translate(415.50,289.80) scale(0.10500,0.10000)" font-size="64.50" font-weight="bold" font-style="normal" text-anchor="end">100</text>
<path d="M419.00 361.40 V363.00" stroke="#8c8c8c" stroke-width="0.8"/>
<text class="tk" transform="translate(419.00,370.40) scale(0.10500,0.10000)" font-size="64.50" font-weight="bold" font-style="normal" text-anchor="middle">0</text>
<path d="M442.80 361.40 V363.00" stroke="#8c8c8c" stroke-width="0.8"/>
<text class="tk" transform="translate(442.80,370.40) scale(0.10500,0.10000)" font-size="64.50" font-weight="bold" font-style="normal" text-anchor="middle">12</text>
<path d="M466.60 361.40 V363.00" stroke="#8c8c8c" stroke-width="0.8"/>
<text class="tk" transform="translate(466.60,370.40) scale(0.10500,0.10000)" font-size="64.50" font-weight="bold" font-style="normal" text-anchor="middle">24</text>
<path d="M490.40 361.40 V363.00" stroke="#8c8c8c" stroke-width="0.8"/>
<text class="tk" transform="translate(490.40,370.40) scale(0.10500,0.10000)" font-size="64.50" font-weight="bold" font-style="normal" text-anchor="middle">36</text>
<path d="M514.20 361.40 V363.00" stroke="#8c8c8c" stroke-width="0.8"/>
<text class="tk" transform="translate(514.20,370.40) scale(0.10500,0.10000)" font-size="64.50" font-weight="bold" font-style="normal" text-anchor="middle">48</text>
<text x="463.58" y="289.50" font-size="9.38" font-weight="normal" font-style="italic" text-anchor="start">granulocytes</text>
<path d="M442.80 293.54 V306.79 M441.60 293.54 H444.00 M441.60 306.79 H444.00" stroke="#8c8c8c" stroke-width="0.8"/>
<path d="M466.60 308.63 V313.78 M465.40 308.63 H467.80 M465.40 313.78 H467.80" stroke="#8c8c8c" stroke-width="0.8"/>
<path d="M419.00 287.80 L442.80 300.31 L466.60 307.67 L514.20 316.87" stroke="#1a1a1a" stroke-width="1.1" fill="none" stroke-linejoin="round"/>
<path d="M419.00 287.80 L442.80 301.05 L466.60 305.83 L514.20 308.41" stroke="#1a1a1a" stroke-width="1.1" fill="none" stroke-linejoin="round"/>
<path d="M419.00 287.80 L442.80 300.16 L466.60 308.63 L514.20 309.81" stroke="#1a1a1a" stroke-width="1.1" fill="none" stroke-linejoin="round"/>
<circle cx="419.00" cy="287.80" r="2.35" fill="#fff" stroke="#000" stroke-width="0.95"/>
<circle cx="442.80" cy="300.31" r="2.35" fill="#fff" stroke="#000" stroke-width="0.95"/>
<circle cx="466.60" cy="307.67" r="2.35" fill="#fff" stroke="#000" stroke-width="0.95"/>
<circle cx="514.20" cy="316.87" r="2.35" fill="#fff" stroke="#000" stroke-width="0.95"/>
<path d="M419.00 284.94 L421.90 290.14 L416.10 290.14 Z" fill="#000"/>
<path d="M442.80 298.19 L445.70 303.39 L439.90 303.39 Z" fill="#000"/>
<path d="M466.60 302.97 L469.50 308.17 L463.70 308.17 Z" fill="#000"/>
<path d="M514.20 305.55 L517.10 310.75 L511.30 310.75 Z" fill="#000"/>
<rect x="416.05" y="284.85" width="5.90" height="5.90" fill="#000"/>
<rect x="439.85" y="297.21" width="5.90" height="5.90" fill="#000"/>
<rect x="463.65" y="305.68" width="5.90" height="5.90" fill="#000"/>
<rect x="511.25" y="306.86" width="5.90" height="5.90" fill="#000"/>
<path d="M301.10 385.30 V459.30 H397.00" stroke="#8c8c8c" stroke-width="1" fill="none"/>
<path d="M299.50 459.30 H301.10" stroke="#8c8c8c" stroke-width="0.8"/>
<text class="tk" transform="translate(297.10,461.30) scale(0.10500,0.10000)" font-size="64.50" font-weight="bold" font-style="normal" text-anchor="end">0</text>
<path d="M299.50 444.60 H301.10" stroke="#8c8c8c" stroke-width="0.8"/>
<text class="tk" transform="translate(297.10,446.60) scale(0.10500,0.10000)" font-size="64.50" font-weight="bold" font-style="normal" text-anchor="end">20</text>
<path d="M299.50 429.90 H301.10" stroke="#8c8c8c" stroke-width="0.8"/>
<text class="tk" transform="translate(297.10,431.90) scale(0.10500,0.10000)" font-size="64.50" font-weight="bold" font-style="normal" text-anchor="end">40</text>
<path d="M299.50 415.20 H301.10" stroke="#8c8c8c" stroke-width="0.8"/>
<text class="tk" transform="translate(297.10,417.20) scale(0.10500,0.10000)" font-size="64.50" font-weight="bold" font-style="normal" text-anchor="end">60</text>
<path d="M299.50 400.50 H301.10" stroke="#8c8c8c" stroke-width="0.8"/>
<text class="tk" transform="translate(297.10,402.50) scale(0.10500,0.10000)" font-size="64.50" font-weight="bold" font-style="normal" text-anchor="end">80</text>
<path d="M299.50 385.80 H301.10" stroke="#8c8c8c" stroke-width="0.8"/>
<text class="tk" transform="translate(297.10,387.80) scale(0.10500,0.10000)" font-size="64.50" font-weight="bold" font-style="normal" text-anchor="end">100</text>
<path d="M301.10 459.30 V460.90" stroke="#8c8c8c" stroke-width="0.8"/>
<text class="tk" transform="translate(302.30,468.50) scale(0.10500,0.10000)" font-size="64.50" font-weight="bold" font-style="normal" text-anchor="middle">0</text>
<path d="M325.08 459.30 V460.90" stroke="#8c8c8c" stroke-width="0.8"/>
<text class="tk" transform="translate(326.28,468.50) scale(0.10500,0.10000)" font-size="64.50" font-weight="bold" font-style="normal" text-anchor="middle">12</text>
<path d="M349.05 459.30 V460.90" stroke="#8c8c8c" stroke-width="0.8"/>
<text class="tk" transform="translate(350.25,468.50) scale(0.10500,0.10000)" font-size="64.50" font-weight="bold" font-style="normal" text-anchor="middle">24</text>
<path d="M373.02 459.30 V460.90" stroke="#8c8c8c" stroke-width="0.8"/>
<text class="tk" transform="translate(374.22,468.50) scale(0.10500,0.10000)" font-size="64.50" font-weight="bold" font-style="normal" text-anchor="middle">36</text>
<path d="M397.00 459.30 V460.90" stroke="#8c8c8c" stroke-width="0.8"/>
<text class="tk" transform="translate(398.20,468.50) scale(0.10500,0.10000)" font-size="64.50" font-weight="bold" font-style="normal" text-anchor="middle">48</text>
<text x="353.04" y="388.10" font-size="9.38" font-weight="normal" font-style="italic" text-anchor="start">monocytes</text>
<path d="M349.05 403.81 V408.22 M347.85 403.81 H350.25 M347.85 408.22 H350.25" stroke="#8c8c8c" stroke-width="0.8"/>
<path d="M325.08 404.03 V408.81 M323.88 404.03 H326.28 M323.88 408.81 H326.28" stroke="#8c8c8c" stroke-width="0.8"/>
<path d="M349.05 416.89 V426.96 M347.85 416.89 H350.25 M347.85 426.96 H350.25" stroke="#8c8c8c" stroke-width="0.8"/>
<path d="M397.00 424.02 V428.43 M395.80 424.02 H398.20 M395.80 428.43 H398.20" stroke="#8c8c8c" stroke-width="0.8"/>
<path d="M301.10 385.80 L325.08 400.21 L349.05 406.01 L397.00 416.52" stroke="#1a1a1a" stroke-width="1.1" fill="none" stroke-linejoin="round"/>
<path d="M301.10 385.80 L325.08 404.54 L349.05 417.77 L397.00 422.55" stroke="#1a1a1a" stroke-width="1.1" fill="none" stroke-linejoin="round"/>
<path d="M301.10 385.80 L325.08 404.03 L349.05 416.89 L397.00 426.23" stroke="#1a1a1a" stroke-width="1.1" fill="none" stroke-linejoin="round"/>
<path d="M301.10 382.94 L304.00 388.14 L298.20 388.14 Z" fill="#000"/>
<path d="M325.08 397.35 L327.98 402.55 L322.18 402.55 Z" fill="#000"/>
<path d="M349.05 403.15 L351.95 408.35 L346.15 408.35 Z" fill="#000"/>
<path d="M397.00 413.66 L399.90 418.86 L394.10 418.86 Z" fill="#000"/>
<circle cx="301.10" cy="385.80" r="2.35" fill="#fff" stroke="#000" stroke-width="0.95"/>
<circle cx="325.08" cy="404.54" r="2.35" fill="#fff" stroke="#000" stroke-width="0.95"/>
<circle cx="349.05" cy="417.77" r="2.35" fill="#fff" stroke="#000" stroke-width="0.95"/>
<circle cx="397.00" cy="422.55" r="2.35" fill="#fff" stroke="#000" stroke-width="0.95"/>
<rect x="298.15" y="382.85" width="5.90" height="5.90" fill="#000"/>
<rect x="322.13" y="401.08" width="5.90" height="5.90" fill="#000"/>
<rect x="346.10" y="413.94" width="5.90" height="5.90" fill="#000"/>
<rect x="394.05" y="423.28" width="5.90" height="5.90" fill="#000"/>
<text x="-0.28" y="13.50" font-size="19.3" font-weight="bold" font-style="normal" text-anchor="start">A</text>
<text x="270.80" y="13.70" font-size="19.3" font-weight="bold" font-style="normal" text-anchor="start">B</text>
<text x="271.30" y="273.00" font-size="19.3" font-weight="bold" font-style="normal" text-anchor="start">C</text>
<text x="39.32" y="13.60" font-size="10.192" font-weight="bold" font-style="normal" text-anchor="start">FasL 100ng/mL</text>
<text x="158.91" y="13.50" font-size="10.371" font-weight="bold" font-style="normal" text-anchor="start">FasL 10 ng/mL</text>
<text x="42.27" y="333.90" font-size="10.4" font-weight="bold" font-style="normal" text-anchor="start">Co-culture with Neuro2A mFasL cells</text>
<text x="345.54" y="14.00" font-size="10.504" font-weight="bold" font-style="normal" text-anchor="start">24 Hours after irradiation</text>
<text x="299.41" y="138.20" font-size="10.251" font-weight="bold" font-style="normal" text-anchor="start">Etoposide 10 μg/mL</text>
<text transform="translate(417.34,139.90) scale(0.09648,0.10000)" font-size="103.00" font-weight="bold" font-style="normal" text-anchor="start">Dexamethasone 1 μM</text>
<text x="355.87" y="273.80" font-size="10.412" font-weight="bold" font-style="normal" text-anchor="start">Cytokine withdrawal</text>
<text transform="translate(400.13,118.40) scale(0.10326,0.10000)" font-size="113.00" font-weight="bold" font-style="normal" text-anchor="start">rads</text>
<text transform="translate(113.08,446.90) scale(0.09410,0.10000)" font-size="117.00" font-weight="bold" font-style="normal" text-anchor="start">Time (hours)</text>
<text transform="translate(376.87,244.60) scale(0.09966,0.10000)" font-size="117.00" font-weight="bold" font-style="normal" text-anchor="start">Time (hours)</text>
<text transform="translate(376.57,482.90) scale(0.09966,0.10000)" font-size="117.00" font-weight="bold" font-style="normal" text-anchor="start">Time (hours)</text>
<text transform="translate(9.07,249.68) rotate(-90)" font-size="11.709" font-weight="bold">Viability (%)</text>
<text transform="translate(280.27,149.68) rotate(-90)" font-size="11.709" font-weight="bold">Viability (%)</text>
<text transform="translate(280.06,412.08) rotate(-90)" font-size="11.763" font-weight="bold">Viability (%)</text>
<rect x="163.8" y="252.8" width="6.9" height="6.9" fill="#000"/>
<circle cx="167.5" cy="269.0" r="3.2" fill="#fff" stroke="#000" stroke-width="1"/>
<path d="M167.8 277.6 L171.9 284.4 L163.7 284.4 Z" fill="#000"/>
<text x="174.27" y="259.20" font-size="8.65" font-weight="normal" font-style="italic" text-anchor="start">GFP</text>
<text x="174.43" y="271.90" font-size="8.65" font-weight="normal" font-style="italic" text-anchor="start">FLAG-CrmA/GFP</text>
<text x="174.14" y="285.30" font-size="8.5" font-weight="normal" font-style="italic" text-anchor="start">Fas</text>
<text x="189.28" y="281.70" font-size="7.387" font-weight="normal" font-style="italic" text-anchor="start">lpr/lpr</text>
</svg></body></html>
